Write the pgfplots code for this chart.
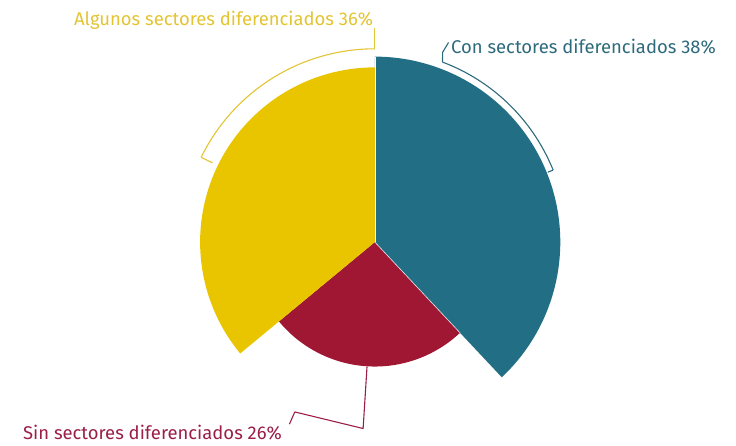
\documentclass[border=0pt]{standalone}
\usepackage{fontspec}
\setmainfont{Fira Sans}
\usepackage{pgfplots}
\pgfplotsset{compat=1.18}
\definecolor{tealc}{HTML}{226F85}
\definecolor{yellowc}{HTML}{E9C500}
\definecolor{redc}{HTML}{A01733}
\definecolor{tealt}{HTML}{2D6A7C}
\definecolor{yellowt}{HTML}{E3C432}
\definecolor{redt}{HTML}{9A1E48}
\begin{document}
\begin{tikzpicture}
\begin{axis}[
  x=4.88bp, y=4.88bp,
  xmin=-76.8, xmax=74.0, ymin=-41.6, ymax=49.6,
  hide axis, clip=false,
  every axis plot/.append style={line join=round},
]
% frame of the picture (invisible)
\addplot[draw=none, forget plot] coordinates {(-76.8,-41.6) (74.0,49.6)};
% sectors: radius ~ percentage, angle span = percentage * 3.6
% Con sectores diferenciados 38%: 90 -> -46.8
\addplot[fill=tealc, draw=none, data cs=polar, domain=-46.8:90, samples=150] (x,38) -- (axis cs:0,0) -- cycle;
% Sin sectores diferenciados 26%: -46.8 -> -140.4
\addplot[fill=redc, draw=none, data cs=polar, domain=-140.4:-46.8, samples=120] (x,25.5) -- (axis cs:0,0) -- cycle;
% Algunos sectores diferenciados 36%: -140.4 -> -270
\addplot[fill=yellowc, draw=none, data cs=polar, domain=-270:-140.4, samples=150] (x,35.8) -- (axis cs:0,0) -- cycle;
% thin separators
\addplot[white, line width=0.6bp] coordinates {(0,0) (0,38)};
\addplot[white!85!tealc, line width=0.6bp, data cs=polar] coordinates {(0,0) (-46.8,25.5)};
% teal bracket
\addplot[tealt, line width=1.1bp, data cs=polar, domain=22:69.4, samples=60] (x,39.4);
\addplot[tealt, line width=1.1bp, data cs=polar] coordinates {(22,39.4) (22,38.2)};
\addplot[tealt, line width=1.1bp] coordinates {(13.85,36.9) (13.9,38.9) (15.1,40.9)};
% yellow bracket
\addplot[yellowt, line width=1.1bp, data cs=polar, domain=90:154, samples=60] (x,39.6);
\addplot[yellowt, line width=1.1bp] coordinates {(0,39.6) (0,43.9)};
\addplot[yellowt, line width=1.1bp, data cs=polar] coordinates {(154,39.6) (154,37.0)};
% red leader
\addplot[redt, line width=1.1bp] coordinates {(-1.6,-25.5) (-2.4,-38.2) (-16.4,-34.8) (-17.5,-37.3)};
% labels
\node[anchor=base west, text=tealt, font=\fontsize{18.5}{22}\selectfont, inner sep=0pt] at (axis cs:15.6,38.6) {Con sectores diferenciados 38\%};
\node[anchor=base east, text=yellowt, font=\fontsize{18.5}{22}\selectfont, inner sep=0pt] at (axis cs:-0.3,44.4) {Algunos sectores diferenciados 36\%};
\node[anchor=base east, text=redt, font=\fontsize{18.5}{22}\selectfont, inner sep=0pt] at (axis cs:-19.0,-40.5) {Sin sectores diferenciados 26\%};
\end{axis}
\end{tikzpicture}
\end{document}
